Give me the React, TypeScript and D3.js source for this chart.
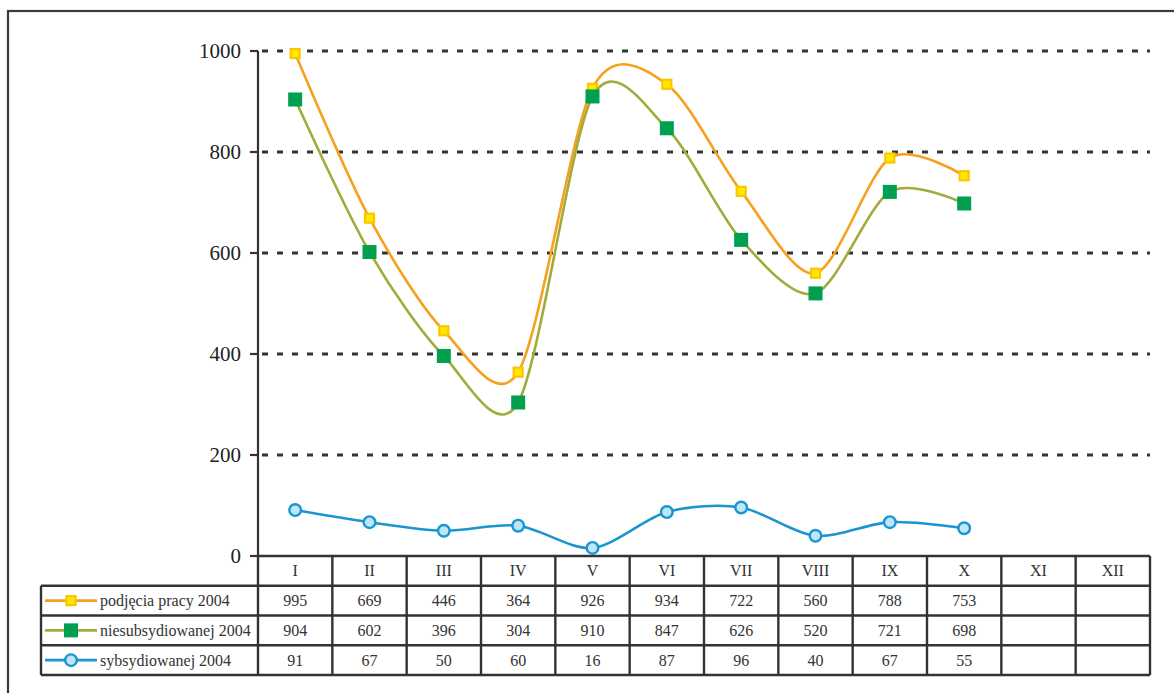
import React from "react";
import * as d3 from "d3";

const months = ["I", "II", "III", "IV", "V", "VI", "VII", "VIII", "IX", "X", "XI", "XII"];
const podjecia = [995, 669, 446, 364, 926, 934, 722, 560, 788, 753];
const niesub = [904, 602, 396, 304, 910, 847, 626, 520, 721, 698];
const subs = [91, 67, 50, 60, 16, 87, 96, 40, 67, 55];
const seriesNames = ["podjęcia pracy 2004", "niesubsydiowanej 2004", "sybsydiowanej 2004"];
const yTicks = [0, 200, 400, 600, 800, 1000];

const FONT = "'Liberation Serif', 'DejaVu Serif', serif";
const W = 1174;
const H = 693;
const X0 = 258;
const X1 = 1150;
const Y0 = 556;
const Y1 = 51;
const ROW = 29.75;
const LEGX = 41;
const INK = "#333";

const ORANGE = "#F6A01E";
const OLIVE = "#A3AB3A";
const BLUE = "#1A95D0";

export default function App() {
  const x = d3.scaleBand<string>().domain(months).range([X0, X1]).padding(0);
  const y = d3.scaleLinear().domain([0, 1000]).range([Y0, Y1]);
  const cx = (i: number) => (x(months[i]) as number) + x.bandwidth() / 2;
  const line = d3
    .line<number>()
    .x((_, i) => cx(i))
    .y((d) => y(d))
    .curve(d3.curveCardinal.tension(0.12));

  const rowsY = [0, 1, 2, 3, 4].map((k) => Y0 + k * ROW);
  const colXs = months.map((m) => x(m) as number).concat([X1]);
  const series = [
    { name: seriesNames[0], data: podjecia, color: ORANGE, kind: "ysq" },
    { name: seriesNames[1], data: niesub, color: OLIVE, kind: "gsq" },
    { name: seriesNames[2], data: subs, color: BLUE, kind: "circ" },
  ];

  const marker = (kind: string, px: number, py: number, key: string | number) => {
    if (kind === "ysq")
      return <rect key={key} x={px - 4.5} y={py - 4.5} width={9} height={9} fill="#FFEA00" stroke="#FFC400" strokeWidth={2.2} />;
    if (kind === "gsq")
      return <rect key={key} x={px - 7} y={py - 7} width={14} height={14} fill="#00A04E" />;
    return <circle key={key} cx={px} cy={py} r={5.8} fill="#BFE6F6" stroke={BLUE} strokeWidth={2.4} />;
  };

  const txt = { fontFamily: FONT };

  return (
    <svg width={W} height={H} style={{ position: "absolute", left: 0, top: 0, background: "#fff", fontFamily: FONT }}>
      <rect x={0} y={0} width={W} height={H} fill="#fff" />
      {/* outer frame */}
      <rect x={8} y={11} width={W + 20} height={H + 20} fill="none" stroke="#3c3c3c" strokeWidth={2.2} />

      {/* gridlines */}
      {yTicks.filter((t) => t > 0).map((t) => (
        <line key={"g" + t} x1={X0 + 4} x2={X1} y1={y(t)} y2={y(t)} stroke={INK} strokeWidth={3} strokeDasharray="6,9" />
      ))}
      {/* y axis */}
      <line x1={X0} x2={X0} y1={Y1} y2={Y0} stroke={INK} strokeWidth={2.2} />
      {yTicks.map((t) => (
        <g key={"t" + t}>
          <line x1={250} x2={X0} y1={y(t)} y2={y(t)} stroke={INK} strokeWidth={2.2} />
          <text style={txt} x={241} y={y(t)} dy="0.35em" textAnchor="end" fontSize={21} fill="#222">
            {t}
          </text>
        </g>
      ))}

      {/* table lines */}
      <line x1={X0} x2={X1} y1={rowsY[0]} y2={rowsY[0]} stroke={INK} strokeWidth={2.4} />
      {rowsY.slice(1).map((ry, k) => (
        <line key={"h" + k} x1={LEGX} x2={X1} y1={ry} y2={ry} stroke={INK} strokeWidth={2.4} />
      ))}
      <line x1={LEGX} x2={LEGX} y1={rowsY[1]} y2={rowsY[4]} stroke={INK} strokeWidth={2.4} />
      {colXs.map((cxx, k) => (
        <line key={"v" + k} x1={cxx} x2={cxx} y1={rowsY[0]} y2={rowsY[4]} stroke={INK} strokeWidth={2.4} />
      ))}

      {/* header row */}
      {months.map((m, i) => (
        <text style={txt} key={"m" + m} x={cx(i)} y={rowsY[0] + ROW / 2} dy="0.35em" textAnchor="middle" fontSize={16} fill="#333">
          {m}
        </text>
      ))}

      {/* series rows */}
      {series.map((s, r) => {
        const ry = rowsY[r + 1] + ROW / 2;
        return (
          <g key={"row" + r}>
            <line x1={45} x2={97} y1={ry} y2={ry} stroke={s.color} strokeWidth={2.6} />
            {marker(s.kind, 71, ry, "lm")}
            <text style={txt} x={100} y={ry} dy="0.35em" fontSize={16} fill="#333">
              {s.name}
            </text>
            {s.data.map((v, i) => (
              <text style={txt} key={i} x={cx(i)} y={ry} dy="0.35em" textAnchor="middle" fontSize={16} fill="#333">
                {v}
              </text>
            ))}
          </g>
        );
      })}

      {/* lines */}
      {series.map((s, r) => (
        <g key={"s" + r}>
          <path d={line(s.data) as string} fill="none" stroke={s.color} strokeWidth={2.6} />
          {s.data.map((v, i) => marker(s.kind, cx(i), y(v), i))}
        </g>
      ))}
    </svg>
  );
}
